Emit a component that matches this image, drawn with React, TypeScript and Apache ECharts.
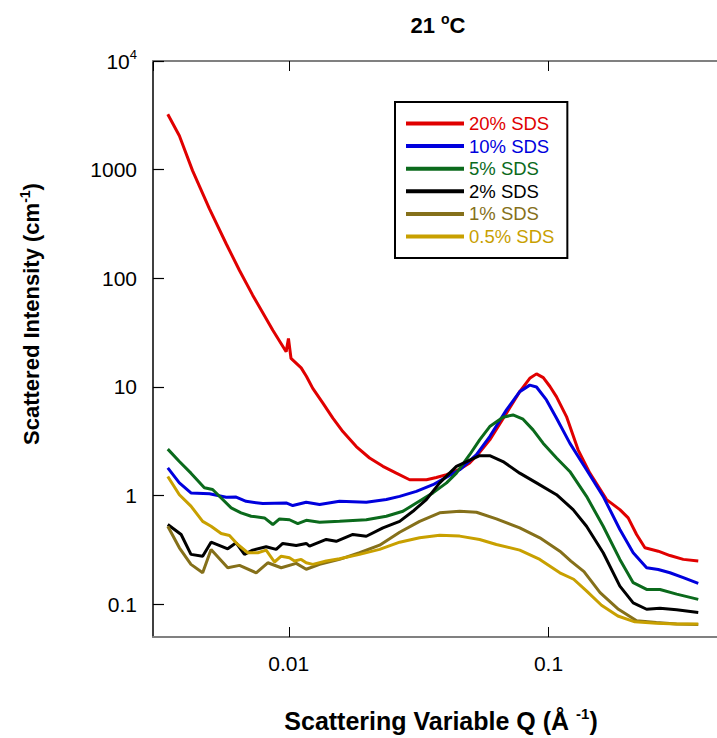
import React, { useEffect, useRef } from "react";
import * as echarts from "echarts";

// ---- Data (Q in Å^-1, intensity in cm^-1) ----
const seriesNames = ["20% SDS", "10% SDS", "5% SDS", "2% SDS", "1% SDS", "0.5% SDS"];

const sds20: [number, number][] = [
  [0.00342, 3240], [0.00379, 2050], [0.00426, 980], [0.00495, 436], [0.00574, 208],
  [0.00646, 118], [0.00726, 70], [0.00868, 33.3], [0.00977, 21.1], [0.00997, 28],
  [0.0102, 18.3], [0.01116, 15], [0.0117, 12.5], [0.01237, 9.7], [0.01353, 7.1],
  [0.01478, 5.16], [0.01615, 3.89], [0.01819, 2.83], [0.02047, 2.22], [0.02304, 1.86],
  [0.02594, 1.61], [0.0292, 1.4], [0.0339, 1.4], [0.037, 1.47], [0.0405, 1.56],
  [0.0455, 1.75], [0.0497, 2.0], [0.0543, 2.5], [0.0594, 3.26], [0.0689, 5.74],
  [0.0775, 9.06], [0.0847, 12.0], [0.0899, 13.2], [0.0955, 12.2], [0.1013, 10.1],
  [0.1074, 8.1], [0.1173, 5.34], [0.13, 2.64], [0.1443, 1.61], [0.1674, 0.919],
  [0.1883, 0.744], [0.2027, 0.624], [0.2184, 0.439], [0.2351, 0.331], [0.2646, 0.308],
  [0.2936, 0.281], [0.3304, 0.259], [0.3773, 0.25],
];

const sds10: [number, number][] = [
  [0.00342, 1.8], [0.00379, 1.31], [0.0042, 1.06], [0.00495, 1.04], [0.00574, 0.965],
  [0.00627, 0.97], [0.00685, 0.886], [0.00794, 0.845], [0.00977, 0.857], [0.01036, 0.81],
  [0.01167, 0.87], [0.01314, 0.83], [0.01568, 0.886], [0.01988, 0.868], [0.02374, 0.92],
  [0.02672, 0.985], [0.03098, 1.095], [0.0359, 1.26], [0.0405, 1.48], [0.0455, 1.73],
  [0.0528, 2.38], [0.0594, 3.5], [0.0689, 6.15], [0.0775, 9.06], [0.0847, 10.4],
  [0.0899, 10.0], [0.0982, 7.6], [0.1074, 5.16], [0.1208, 3.04], [0.1401, 1.73],
  [0.1624, 0.985], [0.1883, 0.488], [0.2119, 0.298], [0.2387, 0.217], [0.2646, 0.209],
  [0.2936, 0.195], [0.3304, 0.176], [0.3773, 0.156],
];

const sds5: [number, number][] = [
  [0.00342, 2.68], [0.00379, 2.06], [0.0042, 1.61], [0.00473, 1.18], [0.00509, 1.14],
  [0.00549, 0.95], [0.006, 0.771], [0.00655, 0.694], [0.00716, 0.646], [0.00806, 0.624],
  [0.00868, 0.542], [0.00921, 0.611], [0.01006, 0.6], [0.01083, 0.553], [0.01167, 0.593],
  [0.01314, 0.569], [0.01568, 0.58], [0.01988, 0.6], [0.02374, 0.646], [0.02751, 0.718],
  [0.03098, 0.857], [0.0359, 1.06], [0.0405, 1.31], [0.0442, 1.61], [0.0497, 2.38],
  [0.0543, 3.26], [0.0594, 4.32], [0.0668, 5.27], [0.073, 5.53], [0.0798, 5.05],
  [0.0872, 4.03], [0.0953, 3.04], [0.1074, 2.22], [0.1208, 1.67], [0.1401, 0.985],
  [0.1624, 0.523], [0.1883, 0.259], [0.2119, 0.158], [0.2387, 0.137], [0.2687, 0.137],
  [0.3115, 0.124], [0.3773, 0.111],
];

const sds2: [number, number][] = [
  [0.00342, 0.542], [0.00385, 0.439], [0.0042, 0.288], [0.00466, 0.277], [0.00502, 0.373],
  [0.00582, 0.324], [0.00627, 0.368], [0.00675, 0.288], [0.00726, 0.315], [0.00818, 0.338],
  [0.00894, 0.32], [0.00948, 0.363], [0.01068, 0.348], [0.01167, 0.363], [0.01202, 0.343],
  [0.01394, 0.395], [0.01523, 0.38], [0.01765, 0.439], [0.01988, 0.423], [0.02304, 0.505],
  [0.02672, 0.58], [0.03006, 0.718], [0.03386, 0.92], [0.0381, 1.31], [0.0442, 1.86],
  [0.0543, 2.33], [0.0594, 2.33], [0.0668, 2.06], [0.0775, 1.61], [0.0899, 1.31],
  [0.1074, 1.02], [0.1244, 0.744], [0.1401, 0.523], [0.1624, 0.298], [0.1883, 0.147],
  [0.2119, 0.103], [0.2387, 0.09], [0.2687, 0.092], [0.3115, 0.089], [0.3773, 0.084],
];

const sds1: [number, number][] = [
  [0.00342, 0.523], [0.00379, 0.331], [0.0042, 0.233], [0.00466, 0.195], [0.00502, 0.32],
  [0.00582, 0.217], [0.00646, 0.228], [0.00749, 0.195], [0.0083, 0.241], [0.00935, 0.217],
  [0.01068, 0.238], [0.01167, 0.21], [0.01314, 0.233], [0.01568, 0.259], [0.01873, 0.298],
  [0.02237, 0.35], [0.02672, 0.46], [0.0319, 0.58], [0.0381, 0.694], [0.0455, 0.718],
  [0.0528, 0.703], [0.063, 0.611], [0.0775, 0.505], [0.0926, 0.409], [0.1106, 0.308],
  [0.122, 0.25], [0.137, 0.2], [0.158, 0.128], [0.186, 0.09], [0.2184, 0.0705],
  [0.26, 0.068], [0.3115, 0.066], [0.3773, 0.065],
];

const sds05: [number, number][] = [
  [0.00342, 1.5], [0.00379, 1.02], [0.0042, 0.8], [0.00466, 0.58], [0.00502, 0.523],
  [0.00549, 0.448], [0.00591, 0.43], [0.00636, 0.355], [0.00695, 0.298], [0.0076, 0.298],
  [0.00818, 0.315], [0.00881, 0.245], [0.00935, 0.277], [0.01006, 0.268], [0.01052, 0.25],
  [0.01116, 0.259], [0.01167, 0.241], [0.01237, 0.233], [0.01394, 0.25], [0.01568, 0.262],
  [0.01873, 0.288], [0.02237, 0.32], [0.02672, 0.373], [0.0319, 0.41], [0.0381, 0.432],
  [0.0455, 0.424], [0.0543, 0.395], [0.063, 0.355], [0.0775, 0.315], [0.0926, 0.259],
  [0.1106, 0.195], [0.125, 0.17], [0.14, 0.133], [0.16, 0.098], [0.185, 0.078],
  [0.215, 0.069], [0.26, 0.067], [0.3115, 0.066], [0.3773, 0.066],
];

const seriesData = [sds20, sds10, sds5, sds2, sds1, sds05];

const xTickValues = [0.01, 0.1];
const xTickLabels = ["0.01", "0.1"];
const yTickValues = [0.1, 1, 10, 100, 1000, 10000];
const yTickLabels = ["0.1", "1", "10", "100", "1000", "{m|10}{s|4}"];

const colors = ["#e00000", "#0000dd", "#0b6a1c", "#000000", "#85701a", "#c8a000"];
const FONT = "'Liberation Sans', Arial, Helvetica, sans-serif";

function findLabel(v: number, values: number[], labels: string[]) {
  for (let i = 0; i < values.length; i++) {
    if (Math.abs(Math.log10(v) - Math.log10(values[i])) < 1e-6) return labels[i];
  }
  return "";
}

export default function App() {
  const ref = useRef<HTMLDivElement>(null);
  useEffect(() => {
    if (!ref.current) return;
    const chart = echarts.init(ref.current, null, { renderer: "svg" });
    const xCommon = {
      type: "log",
      logBase: 10,
      min: 0.003,
      max: 0.4455,
      splitLine: { show: false },
      minorTick: { show: false },
      axisLine: { show: true, lineStyle: { color: "#808080", width: 2 } },
      axisTick: { show: true, inside: true, length: 10, lineStyle: { color: "#000", width: 1 } },
    };
    const option: any = {
      animation: false,
      backgroundColor: "#fff",
      grid: { left: 153, right: 0, top: 61, bottom: 101, containLabel: false },
      xAxis: [
        {
          ...xCommon,
          position: "bottom",
          axisLabel: {
            show: true,
            margin: 16,
            fontSize: 21,
            color: "#000",
            fontFamily: FONT,
            showMinLabel: false,
            showMaxLabel: false,
            formatter: (v: number) => findLabel(v, xTickValues, xTickLabels),
          },
        },
        {
          ...xCommon,
          position: "top",
          axisLabel: { show: false },
        },
      ],
      yAxis: {
        type: "log",
        logBase: 10,
        min: 0.05,
        max: 10000,
        splitLine: { show: false },
        minorTick: { show: false },
        axisLine: { show: true, lineStyle: { color: "#000", width: 1.5 } },
        axisTick: { show: true, inside: true, length: 11, lineStyle: { color: "#000", width: 1.2 } },
        axisLabel: {
          margin: 16,
          fontSize: 21,
          color: "#000",
          fontFamily: FONT,
          showMinLabel: false,
          formatter: (v: number) => findLabel(v, yTickValues, yTickLabels),
          rich: {
            m: { fontSize: 21, fontFamily: FONT, color: "#000", lineHeight: 26 },
            s: { fontSize: 13, fontFamily: FONT, color: "#000", lineHeight: 8, verticalAlign: "top" },
          },
        },
      },
      legend: {
        orient: "vertical",
        left: 395,
        top: 102,
        padding: [12, 13, 12, 11],
        borderColor: "#000",
        borderWidth: 2,
        backgroundColor: "#fff",
        itemWidth: 58,
        itemHeight: 4,
        itemGap: 3.6,
        icon: "rect",
        selectedMode: false,
        textStyle: { fontSize: 18.5, fontFamily: FONT, lineHeight: 18 },
        data: seriesNames.map((n, i) => ({ name: n, textStyle: { color: colors[i] } })),
      },
      series: seriesNames.map((n, i) => ({
        name: n,
        type: "line",
        data: seriesData[i],
        showSymbol: false,
        symbol: "none",
        color: colors[i],
        lineStyle: { width: 3, color: colors[i] },
        clip: true,
      })),
      graphic: [
        {
          type: "text",
          x: 438,
          y: 25,
          style: {
            text: "{b|21 }{s|o}{b|C}",
            align: "center",
            verticalAlign: "middle",
            rich: {
              b: { fontSize: 22, fontWeight: "bold", fontFamily: FONT, fill: "#000", lineHeight: 26 },
              s: { fontSize: 14, fontWeight: "bold", fontFamily: FONT, fill: "#000", lineHeight: 8, verticalAlign: "top" },
            },
          },
        },
        {
          type: "text",
          x: 31,
          y: 314,
          rotation: Math.PI / 2,
          style: {
            text: "{b|Scattered Intensity (cm}{s|-1}{b|)}",
            align: "center",
            verticalAlign: "middle",
            rich: {
              b: { fontSize: 22, fontWeight: "bold", fontFamily: FONT, fill: "#000", lineHeight: 26 },
              s: { fontSize: 14, fontWeight: "bold", fontFamily: FONT, fill: "#000", lineHeight: 8, verticalAlign: "top" },
            },
          },
        },
        {
          type: "text",
          x: 441,
          y: 721,
          style: {
            text: "{b|Scattering Variable Q (Å }{s|-1}{b|)}",
            align: "center",
            verticalAlign: "middle",
            rich: {
              b: { fontSize: 25, fontWeight: "bold", fontFamily: FONT, fill: "#000", lineHeight: 30 },
              s: { fontSize: 15, fontWeight: "bold", fontFamily: FONT, fill: "#000", lineHeight: 9, verticalAlign: "top" },
            },
          },
        },
      ],
    };
    chart.setOption(option);
    return () => chart.dispose();
  }, []);
  return (
    <div
      ref={ref}
      style={{ position: "fixed", left: 0, top: 0, width: 717, height: 738, background: "#fff" }}
    />
  );
}
